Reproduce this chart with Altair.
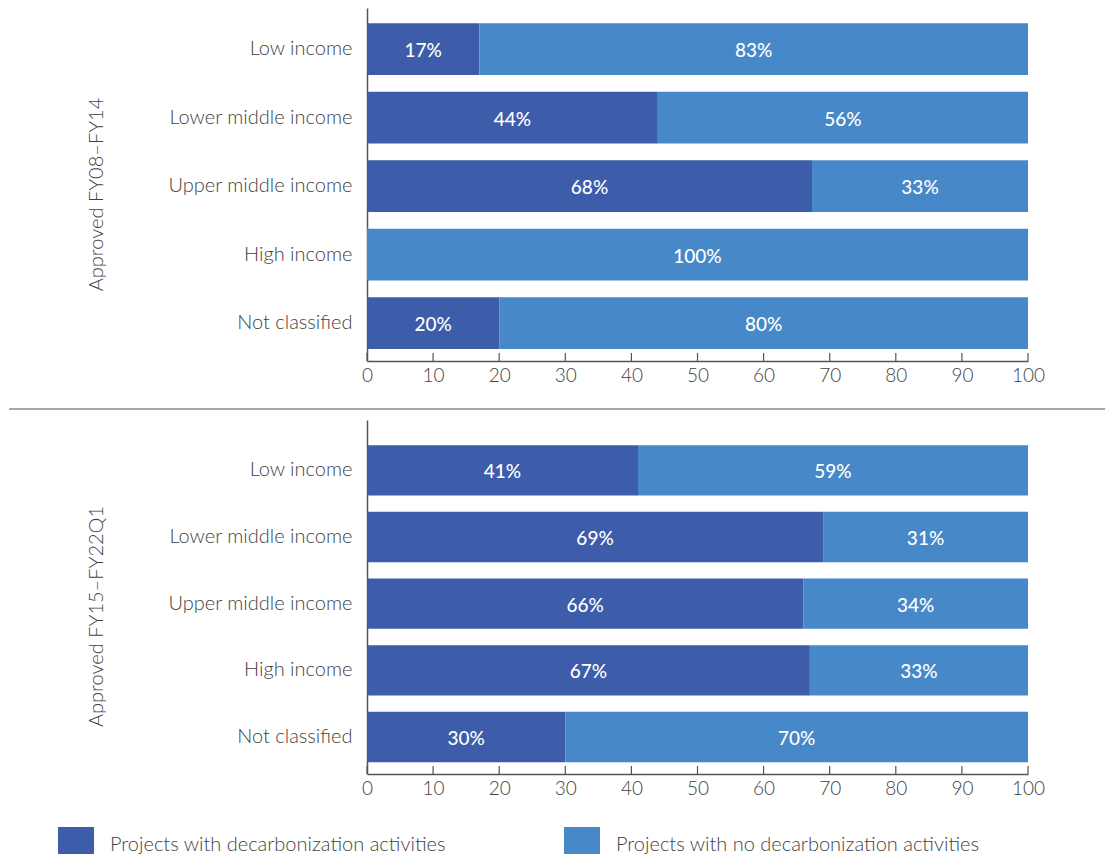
import altair as alt
import pandas as pd

categories = ["Low income", "Lower middle income", "Upper middle income", "High income", "Not classified"]
series = ["Projects with decarbonization activities", "Projects with no decarbonization activities"]
periods = ["Approved FY08–FY14", "Approved FY15–FY22Q1"]
p1_with = [17, 44, 68, 0, 20]
p1_without = [83, 56, 33, 100, 80]
p2_with = [41, 69, 66, 67, 30]
p2_without = [59, 31, 34, 33, 70]
tick_values = [0, 10, 20, 30, 40, 50, 60, 70, 80, 90, 100]
colors = ["#3d5ca9", "#4788c8"]

FONT = "Lato"
GREY = "#3f3f3f"


def build_df(with_vals, without_vals):
    rows = []
    for c, w, wo in zip(categories, with_vals, without_vals):
        rows.append({"category": c, "series": series[0], "order": 0, "value": w})
        rows.append({"category": c, "series": series[1], "order": 1, "value": wo})
    return pd.DataFrame(rows)


def panel(title, with_vals, without_vals, height, pad_outer, align, title_y, separator):
    df = build_df(with_vals, without_vals)
    width = 661
    base = alt.Chart(df).transform_stack(
        stack="value", groupby=["category"], as_=["v0", "v1"],
        offset="normalize", sort=[alt.SortField("order")]
    ).transform_calculate(
        x0="datum.v0*100", x1="datum.v1*100", mid="(datum.v0+datum.v1)*50",
        label="datum.value + '%'"
    )
    y_enc = alt.Y(
        "category:N", sort=categories,
        scale=alt.Scale(paddingInner=0.245, paddingOuter=pad_outer, align=align),
        axis=alt.Axis(
            title=title, titleFont=FONT, titleFontSize=20, titleFontWeight=300,
            titleColor=GREY, titleX=-271, titleY=title_y, titleAngle=-90,
            titleAlign="center", titleBaseline="middle",
            labelFont=FONT, labelFontSize=20, labelFontWeight=300, labelColor=GREY,
            labelPadding=15, labelLimit=400, ticks=False,
            domainColor="#555555", domainWidth=1.5,
        ),
    )
    x_scale = alt.Scale(domain=[0, 100], nice=False, zero=True)
    bars = base.mark_bar().encode(
        x=alt.X("x0:Q", scale=x_scale, title=None,
                axis=alt.Axis(values=tick_values, ticks=False, labelFont=FONT,
                              labelFontSize=19, labelFontWeight=300, labelColor=GREY,
                              labelPadding=5, grid=False, domainColor="#555555",
                              domainWidth=1.5, labelFlush=False)),
        x2="x1:Q",
        y=y_enc,
        color=alt.Color("series:N", scale=alt.Scale(domain=series, range=colors),
                        legend=alt.Legend(
                            title=None, orient="none", legendX=-309, legendY=819,
                            direction="horizontal", columns=2,
                            symbolType="M-1,-1H1V0.5H-1Z", symbolSize=1296,
                            symbolStrokeWidth=0, symbolOpacity=1,
                            labelFont=FONT, labelFontSize=20, labelFontWeight=300,
                            labelColor=GREY, labelOffset=16, labelLimit=600,
                            columnPadding=118, padding=0,
                        )),
    )
    texts = base.transform_filter("datum.value > 0").mark_text(
        color="white", font=FONT, fontSize=19, fontWeight=500, baseline="middle", dy=2
    ).encode(
        x=alt.X("mid:Q", scale=x_scale),
        y=alt.Y("category:N", sort=categories),
        text="label:N",
    )
    tick_df = pd.DataFrame({"t": tick_values})
    ticks = alt.Chart(tick_df).mark_rule(color="#555555", strokeWidth=1.2).encode(
        x=alt.X("t:Q", scale=x_scale),
        y=alt.value(height - 8),
        y2=alt.value(height),
    )
    layers = [bars, texts, ticks]
    if separator:
        sep = alt.Chart(tick_df.head(1)).mark_rule(color="#8a8a8a", strokeWidth=1.5).encode(
            x=alt.value(-358), x2=alt.value(738), y=alt.value(height + 48)
        )
        layers.append(sep)
    return alt.layer(*layers).properties(width=width, height=height)


top = panel(periods[0], p1_with, p1_without, 353, 0.197, 0.56, 186, True)
bottom = panel(periods[1], p2_with, p2_without, 354, 0.278, 0.68, 196, False)

chart = alt.vconcat(top, bottom, spacing=10).properties(padding=0).configure_view(
    stroke=None
)

chart.save("out.html", embed_options={"renderer": "svg", "actions": False})
